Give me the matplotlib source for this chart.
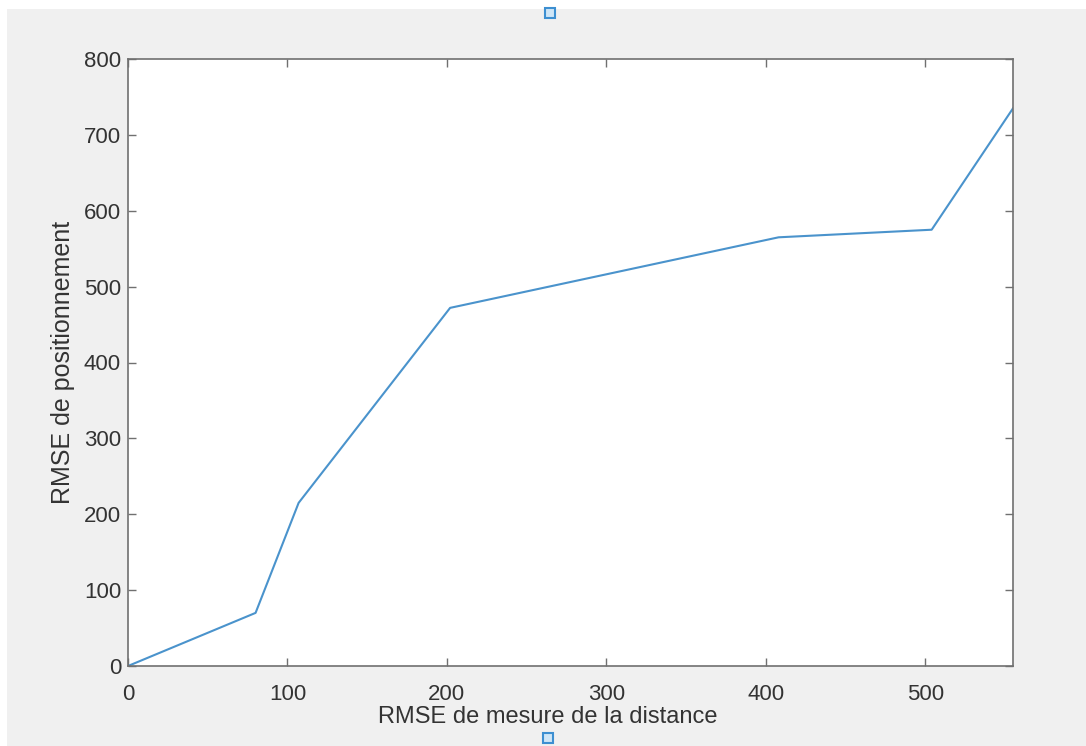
import matplotlib.pyplot as plt
from matplotlib.patches import Rectangle
from matplotlib.lines import Line2D

# RMSE values
distance_rmse = [0, 80, 107, 202, 408, 504, 555]
position_rmse = [0, 70, 215, 472, 565, 575, 735]
x_ticks = [0, 100, 200, 300, 400, 500]
y_ticks = [0, 100, 200, 300, 400, 500, 600, 700, 800]

plt.rcParams['font.family'] = ['Liberation Sans', 'DejaVu Sans']

W, H = 1086, 746
fig = plt.figure(figsize=(W / 100, H / 100), dpi=100, facecolor='white')
# gray MATLAB figure background, thin white margin top and left
fig.add_artist(Rectangle((7 / W, 0), 1, (H - 9) / H, transform=fig.transFigure,
                         facecolor='#f0f0f0', edgecolor='none', zorder=0))

ax_left, ax_right, ax_top, ax_bottom = 128, 1013, 59, 666
ax = fig.add_axes([ax_left / W, 1 - ax_bottom / H, (ax_right - ax_left) / W,
                   (ax_bottom - ax_top) / H])
ax.set_facecolor('white')
ax.plot(distance_rmse, position_rmse, color='#4a93cc', linewidth=1.5)

ax.set_xlim(0, 555)
ax.set_ylim(0, 800)
ax.set_xticks(x_ticks)
ax.set_yticks(y_ticks)
ax.tick_params(direction='in', length=6, width=1, colors='#707070',
               labelcolor='#333333', labelsize=16, top=True, right=True, pad=5)
ax.tick_params(axis='x', pad=13)
for s in ax.spines.values():
    s.set_color('#707070')
    s.set_linewidth(1.2)

ax.set_xlabel('RMSE de mesure de la distance', fontsize=17, color='#333333')
ax.xaxis.set_label_coords((548 - ax_left) / (ax_right - ax_left),
                          -(706 - ax_bottom) / (ax_bottom - ax_top))
ax.set_ylabel('RMSE de positionnement', fontsize=18, color='#333333', labelpad=6)

# selection handles
for px, py in [(550, 13), (548, 738)]:
    fig.add_artist(Line2D([px / W], [1 - py / H], transform=fig.transFigure,
                          marker='s', markersize=7, markerfacecolor='#cfe6f7',
                          markeredgecolor='#3d8fd1', markeredgewidth=1.5))

fig.savefig('out.png', dpi=100, facecolor=fig.get_facecolor())
